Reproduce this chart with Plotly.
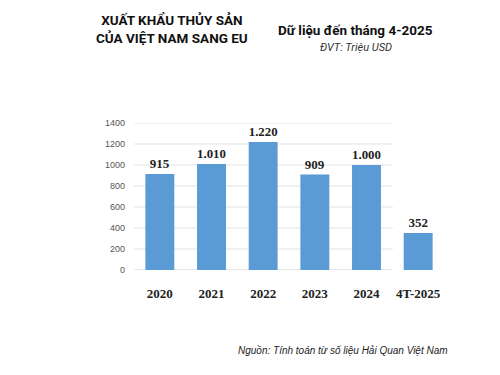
import plotly.graph_objects as go

categories = ["2020", "2021", "2022", "2023", "2024", "4T-2025"]
values = [915, 1010, 1220, 909, 1000, 352]
y_ticks = [0, 200, 400, 600, 800, 1000, 1200, 1400]

fig = go.Figure(go.Bar(
    x=categories, y=values,
    marker=dict(color="#5b9bd5", line=dict(width=0)),
    width=0.56,
    texttemplate="%{y:,}", textposition="outside",
    textfont=dict(family="Liberation Serif", size=13, color="#222", weight="bold"),
    cliponaxis=False,
))

fig.update_layout(
    width=500, height=375,
    paper_bgcolor="white", plot_bgcolor="white",
    separators=",.",
    margin=dict(l=126, r=64, t=115, b=113),
    showlegend=False,
    font=dict(family="Liberation Sans"),
)
fig.update_xaxes(
    tickfont=dict(family="Liberation Serif", size=13, color="#222", weight="bold"),
    ticklabelstandoff=14, showline=False, showgrid=False,
)
fig.update_yaxes(
    range=[0, 1400], tickvals=y_ticks,
    tickfont=dict(family="Liberation Sans", size=9, color="#555"),
    showgrid=False, zeroline=False,
    ticklabelstandoff=8,
)
# gridlines that stop short of the last bar, as in the reference
for t in y_ticks:
    fig.add_shape(type="line", xref="paper", yref="y", x0=0, x1=0.835, y0=t, y1=t,
                  line=dict(color="#e3e3e3" if t else "#d0d0d0", width=1), layer="below")

fig.add_annotation(text="<b>XUẤT KHẨU THỦY SẢN<br>CỦA VIỆT NAM SANG EU</b>",
                   xref="paper", yref="paper", x=0.123, y=1.64, xanchor="center", yanchor="middle",
                   showarrow=False, align="center",
                   font=dict(family="Roboto", size=13.5, color="#111"))
fig.add_annotation(text="<b>Dữ liệu đến tháng 4-2025</b>",
                   xref="paper", yref="paper", x=0.713, y=1.633, xanchor="center", yanchor="middle",
                   showarrow=False, font=dict(family="Roboto", size=13.5, color="#111"))
fig.add_annotation(text="<i>ĐVT: Triệu USD</i>",
                   xref="paper", yref="paper", x=0.716, y=1.517, xanchor="center", yanchor="middle",
                   showarrow=False, font=dict(family="Roboto", size=11, color="#333"))
fig.add_annotation(text="<i>Nguồn: Tính toán từ số liệu Hải Quan Việt Nam</i>",
                   xref="paper", yref="paper", x=1.02, y=-0.551, xanchor="right", yanchor="middle",
                   showarrow=False, font=dict(family="Liberation Sans", size=10, color="#222"))

fig.write_html("out.html")
